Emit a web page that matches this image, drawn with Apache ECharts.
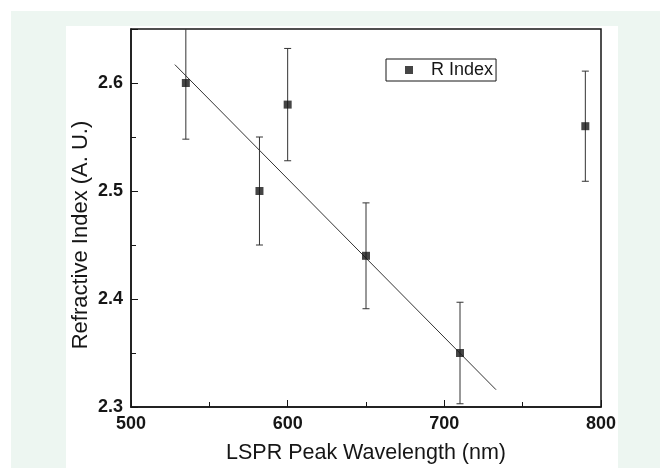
<!DOCTYPE html>
<html>
<head>
<meta charset="utf-8">
<script src="https://cdn.jsdelivr.net/npm/echarts@6/dist/echarts.min.js"></script>
<style>
  html, body { margin: 0; padding: 0; background: #fff; }
  #main { width: 660px; height: 468px; }
</style>
</head>
<body>
<div id="main"></div>
<script type="text/javascript">
    // data
    var wavelength = [535, 582, 600, 650, 710, 790];
    var rIndex = [2.60, 2.50, 2.58, 2.44, 2.35, 2.56];
    var rErr = [0.052, 0.050, 0.052, 0.049, 0.047, 0.051];
    // linear fit end points
    var fitX = [528, 733];
    var fitY = [2.617, 2.316];
    var xTicks = [500, 600, 700, 800];
    var yTicks = [2.3, 2.4, 2.5, 2.6];

    var pts = wavelength.map(function (x, i) { return [x, rIndex[i]]; });
    var bars = wavelength.map(function (x, i) { return [x, rIndex[i] - rErr[i], rIndex[i] + rErr[i]]; });
    var fit = fitX.map(function (x, i) { return [x, fitY[i]]; });

    var ink = '#161616';
    var myChart = echarts.init(document.getElementById('main'), null, {renderer: 'canvas'});
    var option = {
        animation: false,
        backgroundColor: '#fff',
        graphic: [
            {type: 'rect', z: -10, silent: true, shape: {x: 11, y: 11, width: 649, height: 457}, style: {fill: '#edf6f1'}},
            {type: 'rect', z: -9, silent: true, shape: {x: 66, y: 26, width: 552, height: 442}, style: {fill: '#fff'}}
        ],
        grid: {
            left: 131, right: 59, top: 29, bottom: 61,
            outerBoundsMode: 'none',
            show: true, borderColor: ink, borderWidth: 1.5, backgroundColor: '#fff'
        },
        legend: {
            left: 386, top: 59,
            orient: 'horizontal',
            data: [{name: 'R Index', icon: 'rect'}],
            itemWidth: 8, itemHeight: 8,
            padding: [2, 3, 2, 19],
            borderColor: ink, borderWidth: 1,
            backgroundColor: '#fff',
            textStyle: {color: ink, fontFamily: 'Liberation Sans', fontSize: 18, padding: [0, 0, 0, 13]}
        },
        xAxis: {
            type: 'value',
            min: 500, max: 800, interval: 100,
            name: 'LSPR Peak Wavelength (nm)',
            nameLocation: 'middle', nameGap: 35,
            nameTextStyle: {color: ink, fontFamily: 'Liberation Sans', fontSize: 21.5},
            axisLine: {show: true, lineStyle: {color: ink, width: 1.5}},
            axisTick: {inside: true, length: 7, lineStyle: {color: ink}},
            minorTick: {show: true, splitNumber: 2, length: 5, lineStyle: {color: ink}},
            splitLine: {show: false},
            axisLabel: {
                color: ink, fontFamily: 'Liberation Sans', fontSize: 18, fontWeight: 'bold', margin: 8,
                formatter: function (v) { return xTicks.indexOf(v) >= 0 ? String(v) : ''; }
            }
        },
        yAxis: {
            type: 'value',
            min: 2.3, max: 2.65, interval: 0.1,
            name: 'Refractive Index (A. U.)',
            nameLocation: 'middle', nameGap: 39,
            nameMoveOverlap: false,
            nameTextStyle: {color: ink, fontFamily: 'Liberation Sans', fontSize: 22, padding: [0, 34, 0, 0]},
            axisLine: {show: true, lineStyle: {color: ink, width: 1.5}},
            axisTick: {inside: true, length: 7, lineStyle: {color: ink}},
            minorTick: {show: true, splitNumber: 2, length: 5, lineStyle: {color: ink}},
            splitLine: {show: false},
            axisLabel: {
                color: ink, fontFamily: 'Liberation Sans', fontSize: 18, fontWeight: 'bold', margin: 8,
                showMaxLabel: false,
                formatter: function (v) {
                    var s = v.toFixed(1);
                    return yTicks.indexOf(Number(s)) >= 0 ? s : '';
                }
            }
        },
        series: [
            {
                name: 'fit',
                type: 'line',
                data: fit,
                symbol: 'none',
                lineStyle: {color: '#333', width: 1},
                z: 2
            },
            {
                name: 'err',
                type: 'custom',
                clip: true,
                data: bars,
                renderItem: function (params, api) {
                    var x = api.value(0);
                    var lo = api.coord([x, api.value(1)]);
                    var hi = api.coord([x, api.value(2)]);
                    var w = 3.5;
                    var st = {stroke: '#333', lineWidth: 1};
                    return {
                        type: 'group',
                        children: [
                            {type: 'line', shape: {x1: lo[0], y1: lo[1], x2: hi[0], y2: hi[1]}, style: st},
                            {type: 'line', shape: {x1: lo[0] - w, y1: lo[1], x2: lo[0] + w, y2: lo[1]}, style: st},
                            {type: 'line', shape: {x1: hi[0] - w, y1: hi[1], x2: hi[0] + w, y2: hi[1]}, style: st}
                        ]
                    };
                },
                z: 3
            },
            {
                name: 'R Index',
                type: 'scatter',
                data: pts,
                symbol: 'rect',
                symbolSize: 8,
                itemStyle: {color: ink},
                z: 4
            }
        ]
    };
    myChart.setOption(option);
</script>
</body>
</html>
